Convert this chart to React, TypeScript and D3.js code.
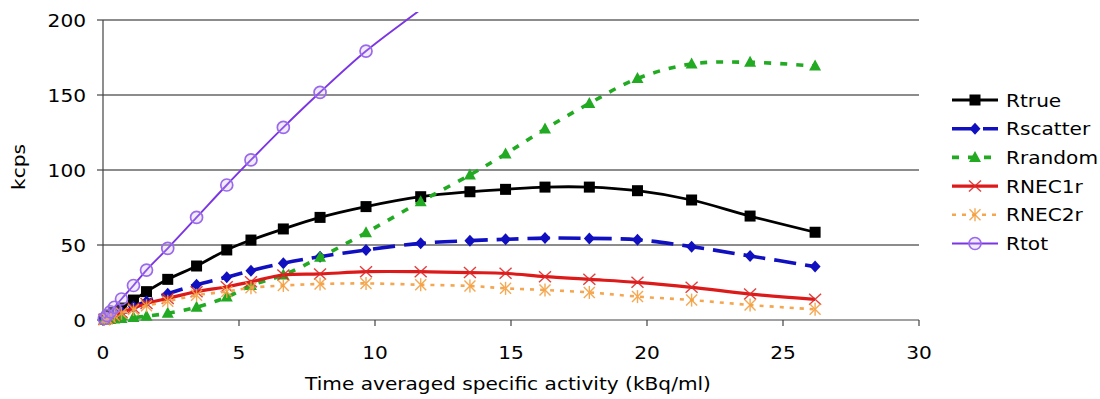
import React from "react";
import * as d3 from "d3";

const xValues = [0.05, 0.15, 0.27, 0.42, 0.68, 1.12, 1.6, 2.38, 3.44, 4.55, 5.44, 6.63, 7.98, 9.67, 11.68, 13.49, 14.8, 16.25, 17.88, 19.65, 21.64, 23.79, 26.18];
const rTrue = [0.6, 1.8, 3.2, 5, 8, 13.3, 18.9, 27.1, 36, 46.7, 53.3, 60.7, 68.4, 75.6, 82.2, 85.5, 87.1, 88.6, 88.6, 86.2, 80, 69.3, 58.5];
const rScatter = [0.4, 1.2, 2.2, 3.5, 5.5, 8.8, 12.3, 17.5, 23.5, 28.5, 32.9, 37.8, 42.2, 46.7, 51.1, 52.9, 53.8, 54.6, 54.4, 53.5, 48.9, 42.7, 35.6];
const rRandom = [0.1, 0.2, 0.4, 0.6, 1.0, 1.6, 2.5, 4.5, 8.5, 15.3, 23, 30, 41.8, 58.2, 78.9, 96.7, 110.7, 127.3, 144.4, 161, 170.7, 171.8, 169.3];
const rNec1 = [0.4, 1.2, 2, 3.2, 5, 8, 11, 14.4, 18.9, 22.2, 25.5, 30, 30.7, 32.2, 32.2, 31.6, 31.1, 28.9, 27.1, 25.1, 21.8, 17.3, 13.8];
const rNec2 = [0.3, 1, 1.8, 2.8, 4.5, 7, 9.5, 12.5, 16.5, 19, 21.5, 23, 24, 24.4, 23.5, 22.7, 21.1, 20, 18.4, 15.6, 13.3, 10, 7.1];
const rTot = [1, 3, 5.5, 8.5, 14, 23, 33.3, 47.8, 68.4, 90, 106.7, 128.4, 151.8, 179.3, 207, 232, 250, 269, 290, 312, 334, 356, 380];

const xTicks = [0, 5, 10, 15, 20, 25, 30];
const yTicks = [0, 50, 100, 150, 200];

type Marker = "square" | "diamond" | "triangle" | "x" | "star" | "circle";
interface Series { name: string; values: number[]; color: string; width: number; dash?: string; marker: Marker; mcolor: string; }

const series: Series[] = [
  { name: "Rtrue", values: rTrue, color: "#000000", width: 2.8, marker: "square", mcolor: "#000000" },
  { name: "Rscatter", values: rScatter, color: "#1010c0", width: 3.6, dash: "22,9", marker: "diamond", mcolor: "#1010c0" },
  { name: "Rrandom", values: rRandom, color: "#22aa22", width: 3.6, dash: "7,9", marker: "triangle", mcolor: "#22aa22" },
  { name: "RNEC1r", values: rNec1, color: "#dd1a1a", width: 3.2, marker: "x", mcolor: "#dd2a2a" },
  { name: "RNEC2r", values: rNec2, color: "#f4a650", width: 2.6, dash: "4,6", marker: "star", mcolor: "#f4a040" },
  { name: "Rtot", values: rTot, color: "#7b35e4", width: 1.9, marker: "circle", mcolor: "#9a6aea" },
];

const FONT = "'DejaVu Sans', Verdana, sans-serif";
const FS = 18.3;
const SX = 1.1;

function Txt({ x, y, anchor = "start", children, rotate = 0 }: { x: number; y: number; anchor?: string; children: any; rotate?: number }) {
  return (
    <text
      transform={`translate(${x},${y}) rotate(${rotate}) scale(${SX},1)`}
      textAnchor={anchor as any}
      fontFamily={FONT}
      fontSize={FS}
      fill="#000"
    >
      {children}
    </text>
  );
}

function MarkerShape({ type, cx, cy, color }: { type: Marker; cx: number; cy: number; color: string }) {
  switch (type) {
    case "square":
      return <rect x={cx - 5.5} y={cy - 5.5} width={11} height={11} fill={color} />;
    case "diamond":
      return <path d={`M${cx},${cy - 6}L${cx + 5.5},${cy}L${cx},${cy + 6}L${cx - 5.5},${cy}Z`} fill={color} />;
    case "triangle":
      return <path d={`M${cx},${cy - 6.5}L${cx + 6},${cy + 4.5}L${cx - 6},${cy + 4.5}Z`} fill={color} />;
    case "x":
      return (
        <g stroke={color} strokeWidth={1.4} opacity={0.9}>
          <line x1={cx - 6} y1={cy - 5.5} x2={cx + 6} y2={cy + 5.5} />
          <line x1={cx - 6} y1={cy + 5.5} x2={cx + 6} y2={cy - 5.5} />
        </g>
      );
    case "star":
      return (
        <g stroke={color} strokeWidth={1.4} opacity={0.9}>
          <line x1={cx - 5.5} y1={cy - 5.5} x2={cx + 5.5} y2={cy + 5.5} />
          <line x1={cx - 5.5} y1={cy + 5.5} x2={cx + 5.5} y2={cy - 5.5} />
          <line x1={cx} y1={cy - 6.5} x2={cx} y2={cy + 6.5} />
        </g>
      );
    case "circle":
      return <circle cx={cx} cy={cy} r={6} fill="#c8b0f4" fillOpacity={0.25} stroke={color} strokeWidth={1.7} />;
  }
}

export default function App() {
  const x = d3.scaleLinear().domain([0, 30]).range([103, 919]);
  const y = d3.scaleLinear().domain([0, 200]).range([320, 20]);
  const line = d3
    .line<number>()
    .x((_, i) => x(xValues[i]))
    .y((d) => y(d))
    .curve(d3.curveCatmullRom.alpha(0.5));

  const legendX0 = 952;
  const legendX1 = 998;
  const legendY0 = 100;
  const legendDy = 28.7;

  return (
    <svg
      width={1100}
      height={399}
      style={{ position: "absolute", left: 0, top: 0, background: "#fff" }}
    >
      <defs>
        <clipPath id="plot">
          <rect x={90} y={12} width={840} height={320} />
        </clipPath>
      </defs>
      <rect x={0} y={0} width={1100} height={399} fill="#fff" />
      {yTicks.filter((t) => t > 0).map((t) => (
        <line key={t} x1={x(0)} x2={x(30)} y1={y(t)} y2={y(t)} stroke="#1a1a1a" strokeWidth={1.1} />
      ))}
      <line x1={x(0)} x2={x(0)} y1={y(200)} y2={y(0)} stroke="#444" strokeWidth={1.2} />
      <line x1={x(0)} x2={x(30)} y1={y(0)} y2={y(0)} stroke="#444" strokeWidth={1.2} />
      {yTicks.map((t) => (
        <g key={t}>
          <line x1={x(0) - 6} x2={x(0)} y1={y(t)} y2={y(t)} stroke="#444" strokeWidth={1.2} />
          <Txt x={86} y={y(t) + 6.6} anchor="end">{t}</Txt>
        </g>
      ))}
      {xTicks.map((t) => (
        <g key={t}>
          <line x1={x(t)} x2={x(t)} y1={y(0)} y2={y(0) + 6} stroke="#444" strokeWidth={1.2} />
          <Txt x={x(t)} y={359} anchor="middle">{t}</Txt>
        </g>
      ))}
      <Txt x={508} y={390} anchor="middle">Time averaged specific activity (kBq/ml)</Txt>
      <Txt x={25} y={167} anchor="middle" rotate={-90}>kcps</Txt>

      <g clipPath="url(#plot)">
        {series.map((s) => (
          <g key={s.name}>
            <path
              d={line(s.values) || ""}
              fill="none"
              stroke={s.color}
              strokeWidth={s.width}
              strokeDasharray={s.dash}
              strokeLinejoin="round"
            />
            {s.values.map((v, i) =>
              y(v) >= 10 ? <MarkerShape key={i} type={s.marker} cx={x(xValues[i])} cy={y(v)} color={s.mcolor} /> : null
            )}
          </g>
        ))}
      </g>

      {series.map((s, i) => {
        const ly = legendY0 + i * legendDy;
        return (
          <g key={s.name}>
            <line x1={legendX0} x2={legendX1} y1={ly} y2={ly} stroke={s.color} strokeWidth={s.width} strokeDasharray={s.dash} />
            <MarkerShape type={s.marker} cx={(legendX0 + legendX1) / 2} cy={ly} color={s.mcolor} />
            <Txt x={1006} y={ly + 6.6}>{s.name}</Txt>
          </g>
        );
      })}
    </svg>
  );
}
